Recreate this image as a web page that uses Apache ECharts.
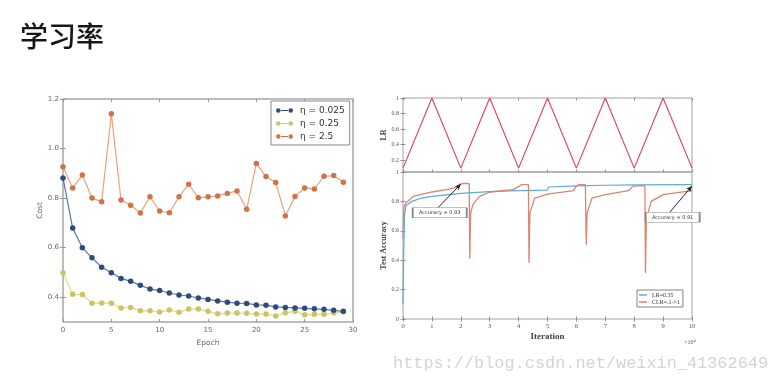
<!DOCTYPE html>
<html><head><meta charset="utf-8">
<script src="https://cdn.jsdelivr.net/npm/echarts@6/dist/echarts.min.js"></script>
<style>html,body{margin:0;padding:0;background:#fff}#c{width:773px;height:384px}</style>
</head><body><div id="c"></div>
<script>
// ---- Left chart data (Cost vs Epoch) ----
const epochs = [0,1,2,3,4,5,6,7,8,9,10,11,12,13,14,15,16,17,18,19,20,21,22,23,24,25,26,27,28,29];
const cost0025 = [0.881,0.679,0.600,0.559,0.521,0.499,0.476,0.464,0.448,0.433,0.427,0.417,0.409,0.405,0.397,0.391,0.385,0.380,0.376,0.375,0.369,0.368,0.361,0.359,0.357,0.355,0.353,0.351,0.347,0.343];
const cost025 = [0.499,0.412,0.411,0.376,0.377,0.376,0.356,0.359,0.345,0.345,0.340,0.348,0.339,0.352,0.352,0.343,0.333,0.336,0.336,0.335,0.332,0.332,0.324,0.337,0.343,0.329,0.331,0.331,0.336,0.341];
const cost25 = [0.927,0.841,0.893,0.800,0.785,1.140,0.792,0.771,0.740,0.805,0.748,0.741,0.805,0.856,0.801,0.805,0.809,0.819,0.829,0.755,0.940,0.887,0.863,0.728,0.807,0.841,0.837,0.888,0.891,0.864];
const leftNames = ['η = 0.025','η = 0.25','η = 2.5'];
const costTicks = [0.4,0.6,0.8,1.0,1.2];

// ---- Right chart data ----
const lrX = [0,1,2,3,4,5,6,7,8,9,10];
const lrY = [0.1,1,0.1,1,0.1,1,0.1,1,0.1,1,0.1];
const lrTicks = [0.2,0.4,0.6,0.8,1];
const accBlueX = [0,0.02,0.05,0.1,0.3,0.6,1,2,3,4,4.98,5.05,6,7,8,10];
const accBlueY = [0.1,0.4,0.7,0.77,0.8,0.82,0.834,0.855,0.867,0.873,0.877,0.898,0.905,0.91,0.912,0.914];
const accRedX = [0,0.03,0.1,0.35,1,1.5,1.85,1.97,2.1,2.29,2.31,2.34,2.42,2.65,3,3.8,4.0,4.1,4.34,4.36,4.39,4.56,5,5.9,6.0,6.1,6.31,6.34,6.37,6.54,7,7.8,7.95,8.1,8.37,8.39,8.42,8.59,9,10];
const accRedY = [0.55,0.76,0.79,0.834,0.864,0.88,0.896,0.918,0.922,0.92,0.41,0.72,0.78,0.834,0.864,0.88,0.9,0.914,0.914,0.381,0.72,0.823,0.85,0.873,0.905,0.914,0.914,0.506,0.72,0.823,0.846,0.873,0.902,0.905,0.905,0.313,0.68,0.80,0.846,0.873];
const accNames = ['LR=0.35','CLR=.1->1'];
const annTexts = ['Accuracy = 0.93','Accuracy = 0.91'];
const annBox = [[1.27,0.723],[9.33,0.692]];
const annFrom = [[1.21,0.757],[9.23,0.726]];
const annTo = [[2.0,0.918],[10.0,0.905]];

const pair = (xs, ys) => xs.map((x,i)=>[x, ys[i]]);

const sans = 'DejaVu Sans';
const serif = 'Liberation Serif';
const leftTick = {inside:true, length:3, lineStyle:{color:'#999'}};
const rightTick = {inside:true, length:2.5, lineStyle:{color:'#777', width:0.8}};
const dotLineIcon = 'path://M0,3a3,3 0 1,0 6,0a3,3 0 1,0 -6,0ZM16,3a3,3 0 1,0 6,0a3,3 0 1,0 -6,0ZM5,2.4L17,2.4L17,3.6L5,3.6Z';

const chart = echarts.init(document.getElementById('c'), null, {renderer:'canvas'});
chart.setOption({
  animation:false,
  backgroundColor:'#fff',
  title:{text:'学习率', left:15, top:17, textStyle:{fontFamily:'Noto Sans CJK SC', fontSize:28, fontWeight:500, color:'#161616'}},
  graphic:[
    {type:'text', left:393, top:355, style:{text:'https://blog.csdn.net/weixin_41362649', font:'16.9px "Liberation Mono"', fill:'#d4d4d4'}},
    {type:'text', left:684, top:338, style:{rich:{a:{fontFamily:serif,fontSize:6,fill:'#555'},b:{fontFamily:serif,fontSize:4.5,fill:'#555',verticalAlign:'top', padding:[0,0,4,0]}}, text:'{a|×10}{b|4}'}}
  ],
  grid:[
    {left:63, top:99, width:290, height:223, show:true, borderColor:'#a8a8a8', borderWidth:1.5, backgroundColor:'#fff'},
    {left:403, top:98, width:289, height:74, show:true, borderColor:'#8a8a8a', borderWidth:0.8},
    {left:403, top:172, width:289, height:147, show:true, borderColor:'#8a8a8a', borderWidth:0.8}
  ],
  legend:[
    {data:leftNames.map(n=>({name:n, icon:dotLineIcon})), left:271, top:101, orient:'vertical', borderColor:'#888', borderWidth:1, padding:[5,5,4,5], itemGap:4, itemWidth:17, itemHeight:5, backgroundColor:'#fff',
      textStyle:{fontFamily:sans, fontSize:9, color:'#333', padding:[0,0,0,2]}},
    {data:accNames, left:637, top:290, orient:'vertical', borderColor:'#666', borderWidth:0.8, padding:[2,3,2,2], itemGap:1, itemWidth:8, itemHeight:1.5, icon:'rect', backgroundColor:'#fff',
      textStyle:{fontFamily:serif, fontSize:6, color:'#333'}}
  ],
  xAxis:[
    {gridIndex:0, type:'value', min:0, max:30, interval:5, axisLine:{show:false}, axisTick:leftTick, splitLine:{show:false},
      axisLabel:{fontFamily:sans, fontSize:7, color:'#666', margin:5}, name:'Epoch', nameLocation:'middle', nameGap:13, nameTextStyle:{fontFamily:sans, fontSize:7.5, color:'#666'}},
    {gridIndex:0, type:'value', position:'top', min:0, max:30, interval:5, axisLine:{show:false}, axisTick:leftTick, axisLabel:{show:false}, splitLine:{show:false}},
    {gridIndex:1, type:'value', min:0, max:10, interval:1, axisLine:{show:false}, axisTick:rightTick, axisLabel:{show:false}, splitLine:{show:false}},
    {gridIndex:1, type:'value', position:'top', min:0, max:10, interval:1, axisLine:{show:false}, axisTick:rightTick, axisLabel:{show:false}, splitLine:{show:false}},
    {gridIndex:2, type:'value', min:0, max:10, interval:1, axisLine:{show:false}, axisTick:rightTick, splitLine:{show:false},
      axisLabel:{fontFamily:serif, fontSize:6.5, color:'#555', margin:4}, name:'Iteration', nameLocation:'middle', nameGap:13, nameTextStyle:{fontFamily:serif, fontSize:9, fontWeight:'bold', color:'#444'}},
    {gridIndex:2, type:'value', position:'top', min:0, max:10, interval:1, axisLine:{show:false}, axisTick:rightTick, axisLabel:{show:false}, splitLine:{show:false}}
  ],
  yAxis:[
    {gridIndex:0, type:'value', min:0.3, max:1.2, axisLine:{show:false}, splitLine:{show:false},
      axisTick:Object.assign({customValues:costTicks}, leftTick),
      axisLabel:{customValues:costTicks, formatter:v=>v.toFixed(1), fontFamily:sans, fontSize:7, color:'#666', margin:4},
      name:'Cost', nameLocation:'middle', nameGap:17, nameTextStyle:{fontFamily:sans, fontSize:7.5, color:'#666'}},
    {gridIndex:0, type:'value', position:'right', min:0.3, max:1.2, axisLine:{show:false}, splitLine:{show:false},
      axisTick:Object.assign({customValues:costTicks}, leftTick), axisLabel:{show:false}},
    {gridIndex:1, type:'value', min:0.05, max:1, axisLine:{show:false}, splitLine:{show:false},
      axisTick:Object.assign({customValues:lrTicks}, rightTick),
      axisLabel:{customValues:lrTicks, formatter:v=>String(v), fontFamily:serif, fontSize:6, color:'#555', margin:4},
      name:'LR', nameLocation:'middle', nameGap:10, nameTextStyle:{fontFamily:serif, fontSize:8, fontWeight:'bold', color:'#444'}},
    {gridIndex:1, type:'value', position:'right', min:0.05, max:1, axisLine:{show:false}, splitLine:{show:false},
      axisTick:Object.assign({customValues:lrTicks}, rightTick), axisLabel:{show:false}},
    {gridIndex:2, type:'value', min:0, max:1, interval:0.2, axisLine:{show:false}, splitLine:{show:false}, axisTick:rightTick,
      axisLabel:{formatter:v=>String(Math.round(v*10)/10), fontFamily:serif, fontSize:6, color:'#555', margin:4},
      name:'Test Accuracy', nameLocation:'middle', nameGap:10, nameTextStyle:{fontFamily:serif, fontSize:8, fontWeight:'bold', color:'#444'}},
    {gridIndex:2, type:'value', position:'right', min:0, max:1, interval:0.2, axisLine:{show:false}, splitLine:{show:false}, axisTick:rightTick, axisLabel:{show:false}}
  ],
  series:[
    {name:leftNames[0], type:'line', xAxisIndex:0, yAxisIndex:0, data:pair(epochs,cost0025), symbol:'circle', symbolSize:5.5, showAllSymbol:true,
      itemStyle:{color:'#2f4b7c'}, lineStyle:{color:'#5a76a4', width:1.2}, z:3},
    {name:leftNames[1], type:'line', xAxisIndex:0, yAxisIndex:0, data:pair(epochs,cost025), symbol:'circle', symbolSize:5.5, showAllSymbol:true,
      itemStyle:{color:'#cbc462'}, lineStyle:{color:'#e0dc90', width:1.2}, z:2},
    {name:leftNames[2], type:'line', xAxisIndex:0, yAxisIndex:0, data:pair(epochs,cost25), symbol:'circle', symbolSize:5.5, showAllSymbol:true,
      itemStyle:{color:'#cf7447'}, lineStyle:{color:'#eba280', width:1.2}, z:2},
    {name:'LR', type:'line', xAxisIndex:2, yAxisIndex:2, data:pair(lrX,lrY), symbol:'none', lineStyle:{color:'#dc4c5c', width:1.2}},
    {name:accNames[0], type:'line', xAxisIndex:4, yAxisIndex:4, data:pair(accBlueX,accBlueY), symbol:'none', itemStyle:{color:'#56aee0'}, lineStyle:{color:'#56aee0', width:1.2}, z:2},
    {name:accNames[1], type:'line', xAxisIndex:4, yAxisIndex:4, data:pair(accRedX,accRedY), symbol:'none', itemStyle:{color:'#dc8470'}, lineStyle:{color:'#dc8470', width:1.3}, z:3,
      markLine:{silent:true, symbol:['none','arrow'], symbolSize:[4,6], label:{show:false}, lineStyle:{color:'#222', width:1, type:'solid'}, z:5,
        data:annFrom.map((f,i)=>[{coord:f},{coord:annTo[i]}])},
      markPoint:{silent:true, z:6, data:annBox.map((b,i)=>({coord:b, symbol:'rect', symbolSize:[54,10],
        itemStyle:{color:'#fff', borderColor:'#888', borderWidth:0.8},
        label:{show:true, position:'inside', formatter:annTexts[i], fontFamily:sans, fontSize:5, color:'#333'}}))}}
  ]
});
</script></body></html>
